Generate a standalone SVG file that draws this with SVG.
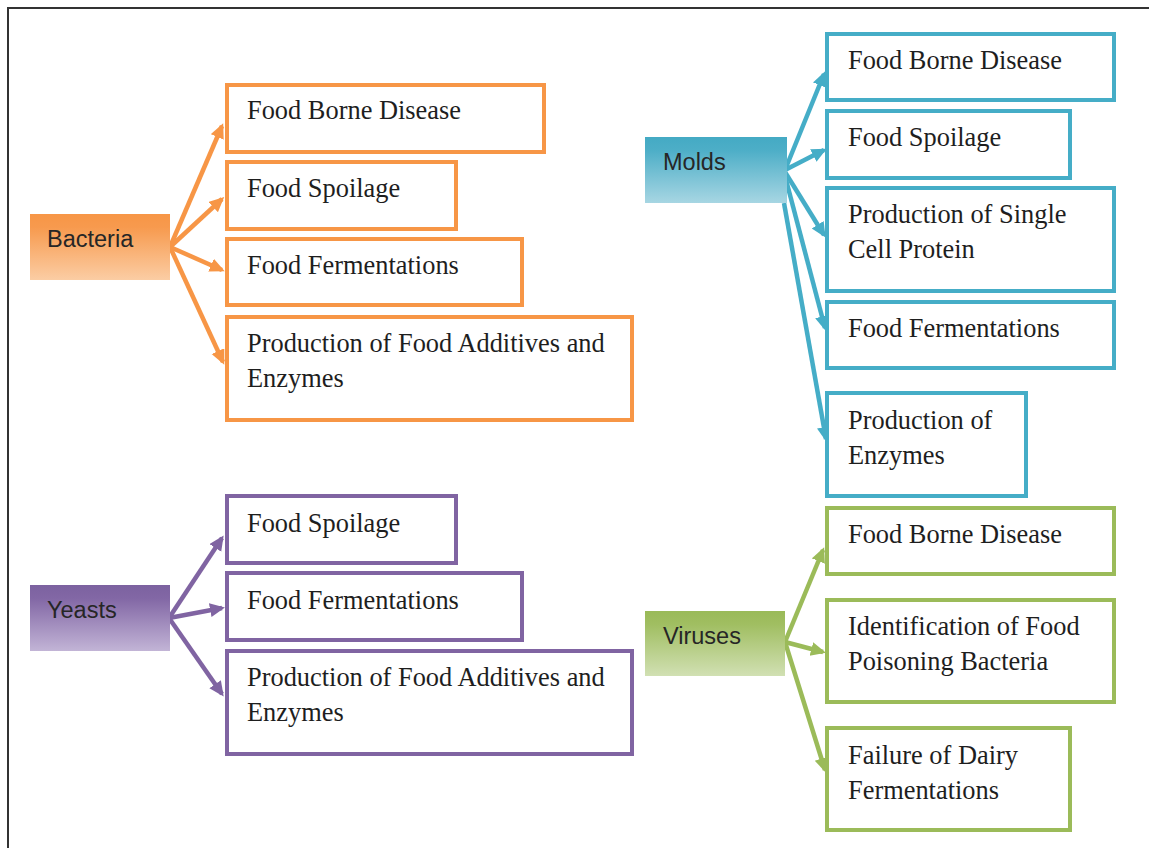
<svg xmlns="http://www.w3.org/2000/svg" width="1149" height="848" viewBox="0 0 1149 848">
  <defs>
    <style>
      .frame { fill: none; stroke: #333333; stroke-width: 2; }
      .box { fill: #ffffff; stroke-width: 4; }
      .head { font-family: "Liberation Sans", Arial, sans-serif; font-size: 23.5px; fill: #262626; }
      .item { font-family: "Liberation Serif", "Times New Roman", serif; font-size: 26.4px; fill: #1e1e1e; }
      .orange { stroke: #F79646; }
      .blue { stroke: #45ADC7; }
      .purple { stroke: #8064A2; }
      .green { stroke: #9BBB59; }
      .link { fill: none; stroke-width: 4.5; stroke-linecap: butt; }
    </style>
    <linearGradient id="gOrange" x1="0" y1="0" x2="0" y2="1">
      <stop offset="0" stop-color="#F79646"/>
      <stop offset="0.2" stop-color="#F79A4E"/>
      <stop offset="1" stop-color="#FBCDA4"/>
    </linearGradient>
    <linearGradient id="gBlue" x1="0" y1="0" x2="0" y2="1">
      <stop offset="0" stop-color="#44AAC4"/>
      <stop offset="0.2" stop-color="#4DAEC7"/>
      <stop offset="1" stop-color="#A7D6E3"/>
    </linearGradient>
    <linearGradient id="gPurple" x1="0" y1="0" x2="0" y2="1">
      <stop offset="0" stop-color="#7C62A0"/>
      <stop offset="0.2" stop-color="#8267A5"/>
      <stop offset="1" stop-color="#C2B4D6"/>
    </linearGradient>
    <linearGradient id="gGreen" x1="0" y1="0" x2="0" y2="1">
      <stop offset="0" stop-color="#9ABA58"/>
      <stop offset="0.2" stop-color="#A0BE61"/>
      <stop offset="1" stop-color="#D1E0B3"/>
    </linearGradient>
    <marker id="aOrange" markerUnits="userSpaceOnUse" markerWidth="16" markerHeight="16" refX="12" refY="7" orient="auto">
      <path d="M0,0 L15,7 L0,14 z" fill="#F79646"/>
    </marker>
    <marker id="aBlue" markerUnits="userSpaceOnUse" markerWidth="16" markerHeight="16" refX="12" refY="7" orient="auto">
      <path d="M0,0 L15,7 L0,14 z" fill="#45ADC7"/>
    </marker>
    <marker id="aPurple" markerUnits="userSpaceOnUse" markerWidth="16" markerHeight="16" refX="12" refY="7" orient="auto">
      <path d="M0,0 L15,7 L0,14 z" fill="#8064A2"/>
    </marker>
    <marker id="aGreen" markerUnits="userSpaceOnUse" markerWidth="16" markerHeight="16" refX="12" refY="7" orient="auto">
      <path d="M0,0 L15,7 L0,14 z" fill="#9BBB59"/>
    </marker>
  </defs>

  <rect width="1149" height="848" fill="#ffffff"/>
  <!-- page border -->
  <path class="frame" d="M8,848 L8,8 L1149,8"/>

  <!-- connectors -->
  <g id="connectors">
    <g class="link orange" marker-end="url(#aOrange)">
      <line x1="170" y1="247" x2="222" y2="126"/>
      <line x1="170" y1="247" x2="222" y2="199"/>
      <line x1="170" y1="247" x2="222" y2="270"/>
      <line x1="170" y1="247" x2="223" y2="362"/>
    </g>
    <g class="link blue" marker-end="url(#aBlue)">
      <line x1="785" y1="170" x2="824" y2="74"/>
      <line x1="785" y1="170" x2="824" y2="150"/>
      <line x1="785" y1="172" x2="824" y2="235"/>
      <line x1="785" y1="176" x2="825" y2="328"/>
      <line x1="784" y1="203" x2="826" y2="439"/>
    </g>
    <g class="link purple" marker-end="url(#aPurple)">
      <line x1="169" y1="618" x2="222" y2="538"/>
      <line x1="169" y1="618" x2="222" y2="608"/>
      <line x1="169" y1="618" x2="222" y2="694"/>
    </g>
    <g class="link green" marker-end="url(#aGreen)">
      <line x1="785" y1="642" x2="823" y2="550"/>
      <line x1="785" y1="642" x2="823" y2="652"/>
      <line x1="785" y1="642" x2="825" y2="770"/>
    </g>
  </g>

  <!-- Bacteria -->
  <g id="bacteria">
    <rect x="30" y="214" width="140" height="66" fill="url(#gOrange)"/>
    <text class="head" x="47" y="247">Bacteria</text>
  </g>
  <g id="bacteria-disease">
    <rect class="box orange" x="227" y="85" width="317" height="67"/>
    <text class="item" x="247" y="119">Food Borne Disease</text>
  </g>
  <g id="bacteria-spoilage">
    <rect class="box orange" x="227" y="162" width="229" height="67"/>
    <text class="item" x="247" y="197">Food Spoilage</text>
  </g>
  <g id="bacteria-fermentations">
    <rect class="box orange" x="227" y="239" width="295" height="66"/>
    <text class="item" x="247" y="274">Food Fermentations</text>
  </g>
  <g id="bacteria-additives">
    <rect class="box orange" x="227" y="317" width="405" height="103"/>
    <text class="item" x="247" y="352">Production of Food Additives and</text>
    <text class="item" x="247" y="387">Enzymes</text>
  </g>

  <!-- Molds -->
  <g id="molds">
    <rect x="645" y="137" width="142" height="66" fill="url(#gBlue)"/>
    <text class="head" x="663" y="170">Molds</text>
  </g>
  <g id="molds-disease">
    <rect class="box blue" x="827" y="34" width="287" height="66"/>
    <text class="item" x="848" y="69">Food Borne Disease</text>
  </g>
  <g id="molds-spoilage">
    <rect class="box blue" x="827" y="111" width="243" height="67"/>
    <text class="item" x="848" y="146">Food Spoilage</text>
  </g>
  <g id="molds-protein">
    <rect class="box blue" x="827" y="188" width="287" height="103"/>
    <text class="item" x="848" y="223">Production of Single</text>
    <text class="item" x="848" y="258">Cell Protein</text>
  </g>
  <g id="molds-fermentations">
    <rect class="box blue" x="827" y="302" width="287" height="66"/>
    <text class="item" x="848" y="337">Food Fermentations</text>
  </g>
  <g id="molds-enzymes">
    <rect class="box blue" x="827" y="393" width="199" height="103"/>
    <text class="item" x="848" y="429">Production of</text>
    <text class="item" x="848" y="464">Enzymes</text>
  </g>

  <!-- Yeasts -->
  <g id="yeasts">
    <rect x="30" y="585" width="140" height="66" fill="url(#gPurple)"/>
    <text class="head" x="47" y="618">Yeasts</text>
  </g>
  <g id="yeasts-spoilage">
    <rect class="box purple" x="227" y="496" width="229" height="67"/>
    <text class="item" x="247" y="532">Food Spoilage</text>
  </g>
  <g id="yeasts-fermentations">
    <rect class="box purple" x="227" y="573" width="295" height="67"/>
    <text class="item" x="247" y="609">Food Fermentations</text>
  </g>
  <g id="yeasts-additives">
    <rect class="box purple" x="227" y="651" width="405" height="103"/>
    <text class="item" x="247" y="686">Production of Food Additives and</text>
    <text class="item" x="247" y="721">Enzymes</text>
  </g>

  <!-- Viruses -->
  <g id="viruses">
    <rect x="645" y="611" width="140" height="65" fill="url(#gGreen)"/>
    <text class="head" x="663" y="644">Viruses</text>
  </g>
  <g id="viruses-disease">
    <rect class="box green" x="827" y="508" width="287" height="66"/>
    <text class="item" x="848" y="543">Food Borne Disease</text>
  </g>
  <g id="viruses-identification">
    <rect class="box green" x="827" y="600" width="287" height="102"/>
    <text class="item" x="848" y="635">Identification of Food</text>
    <text class="item" x="848" y="670">Poisoning Bacteria</text>
  </g>
  <g id="viruses-dairy">
    <rect class="box green" x="827" y="728" width="243" height="102"/>
    <text class="item" x="848" y="764">Failure of Dairy</text>
    <text class="item" x="848" y="799">Fermentations</text>
  </g>
</svg>
